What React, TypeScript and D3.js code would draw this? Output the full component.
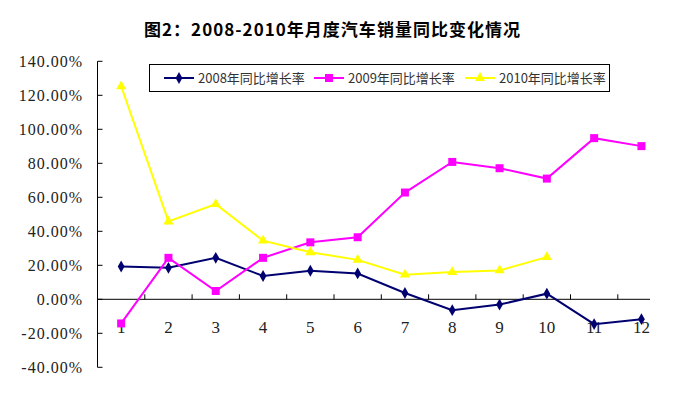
import { useEffect, useRef } from "react"
import * as d3 from "d3"

const title = "图2：2008-2010年月度汽车销量同比变化情况"
const months = ["1", "2", "3", "4", "5", "6", "7", "8", "9", "10", "11", "12"]
const yTicks = [-0.4, -0.2, 0, 0.2, 0.4, 0.6, 0.8, 1.0, 1.2, 1.4]

const growth2008 = [0.193, 0.185, 0.244, 0.137, 0.168, 0.152, 0.037, -0.064, -0.031, 0.033, -0.146, -0.117]
const growth2009 = [-0.142, 0.244, 0.049, 0.244, 0.335, 0.365, 0.628, 0.808, 0.771, 0.71, 0.948, 0.901]
const growth2010 = [1.253, 0.458, 0.56, 0.345, 0.277, 0.232, 0.145, 0.16, 0.17, 0.248]

const seriesNames = ["2008年同比增长率", "2009年同比增长率", "2010年同比增长率"]

function App() {
	const ref = useRef(null)
	const width = 675
	const height = 396
	const margin = { top: 61.3, right: 10, bottom: 28.7, left: 97.5 }

	useEffect(() => {
		const svg = d3.select(ref.current)
		svg.selectAll("*").remove()

		const x = d3
			.scaleBand()
			.domain(months)
			.range([margin.left, margin.left + 12 * 47.3])

		const y = d3
			.scaleLinear()
			.domain([-0.4, 1.4])
			.range([height - margin.bottom, margin.top])

		svg.append("rect").attr("width", width).attr("height", height).attr("fill", "#fff")

		// title
		svg
			.append("text")
			.attr("x", 332)
			.attr("y", 36)
			.attr("text-anchor", "middle")
			.attr("font-family", "'Noto Sans CJK SC', sans-serif")
			.attr("font-weight", "bold")
			.attr("font-size", 17)
			.attr("textLength", 376)
			.attr("lengthAdjust", "spacing")
			.attr("fill", "#000")
			.text(title)

		// y axis
		const yAxis = svg.append("g")
		yAxis
			.append("line")
			.attr("x1", margin.left)
			.attr("x2", margin.left)
			.attr("y1", y(1.4))
			.attr("y2", y(-0.4))
			.attr("stroke", "#000")
			.attr("stroke-width", 1)

		yAxis
			.selectAll(".ytick")
			.data(yTicks)
			.enter()
			.append("line")
			.attr("x1", margin.left)
			.attr("x2", margin.left + 5)
			.attr("y1", (d) => y(d))
			.attr("y2", (d) => y(d))
			.attr("stroke", "#000")

		yAxis
			.selectAll(".ylabel")
			.data(yTicks)
			.enter()
			.append("text")
			.attr("x", 83)
			.attr("y", (d) => y(d))
			.attr("dy", "0.35em")
			.attr("text-anchor", "end")
			.attr("font-family", "'Liberation Serif', serif")
			.attr("font-size", 16)
			.attr("letter-spacing", 1)
			.attr("fill", "#222")
			.text((d) => (d * 100).toFixed(2) + "%")

		// x axis along zero
		const xAxis = svg.append("g")
		xAxis
			.append("line")
			.attr("x1", margin.left)
			.attr("x2", 650)
			.attr("y1", y(0))
			.attr("y2", y(0))
			.attr("stroke", "#000")

		xAxis
			.selectAll(".xtick")
			.data(months.slice(1))
			.enter()
			.append("line")
			.attr("x1", (d) => x(d))
			.attr("x2", (d) => x(d))
			.attr("y1", y(0))
			.attr("y2", y(0) - 5)
			.attr("stroke", "#000")

		xAxis
			.selectAll(".xlabel")
			.data(months)
			.enter()
			.append("text")
			.attr("x", (d) => x(d) + x.bandwidth() / 2)
			.attr("y", 327)
			.attr("dy", "0.35em")
			.attr("text-anchor", "middle")
			.attr("font-family", "'Liberation Serif', serif")
			.attr("font-size", 17)
			.attr("fill", "#222")
			.text((d) => d)

		const cx = (i) => x(months[i]) + x.bandwidth() / 2
		const line = d3
			.line()
			.x((d, i) => cx(i))
			.y((d) => y(d))

		const diamond = d3.symbol().type(d3.symbolDiamond).size(40)
		const square = d3.symbol().type(d3.symbolSquare).size(64)
		const triangle = d3.symbol().type(d3.symbolTriangle).size(45)

		const series = [
			{ data: growth2008, color: "#000070", symbol: diamond },
			{ data: growth2009, color: "#ff00ff", symbol: square },
			{ data: growth2010, color: "#ffff00", symbol: triangle },
		]

		series.forEach((s) => {
			const g = svg.append("g")
			g.append("path")
				.attr("d", line(s.data))
				.attr("fill", "none")
				.attr("stroke", s.color)
				.attr("stroke-width", 2)
			g.selectAll("path.mark")
				.data(s.data)
				.enter()
				.append("path")
				.attr("class", "mark")
				.attr("d", s.symbol)
				.attr("transform", (d, i) => `translate(${cx(i)},${y(d)})`)
				.attr("fill", s.color)
		})

		// legend
		const legend = svg.append("g")
		legend
			.append("rect")
			.attr("x", 149.5)
			.attr("y", 64.5)
			.attr("width", 460)
			.attr("height", 27)
			.attr("fill", "#fff")
			.attr("stroke", "#000")

		const legendX = [164, 314, 465]
		series.forEach((s, i) => {
			const lx = legendX[i]
			legend
				.append("line")
				.attr("x1", lx)
				.attr("x2", lx + 30)
				.attr("y1", 78)
				.attr("y2", 78)
				.attr("stroke", s.color)
				.attr("stroke-width", 2)
			legend
				.append("path")
				.attr("d", s.symbol)
				.attr("transform", `translate(${lx + 15},78)`)
				.attr("fill", s.color)
			legend
				.append("text")
				.attr("x", lx + 34)
				.attr("y", 78)
				.attr("dy", "0.35em")
				.attr("font-family", "'Noto Sans CJK SC', sans-serif")
				.attr("font-size", 13)
				.attr("fill", "#333")
				.text(seriesNames[i])
		})
	}, [])

	return (
		<svg
			ref={ref}
			width={width}
			height={height}
			style={{ display: "block", position: "absolute", left: 0, top: 0 }}
		></svg>
	)
}

export default App
